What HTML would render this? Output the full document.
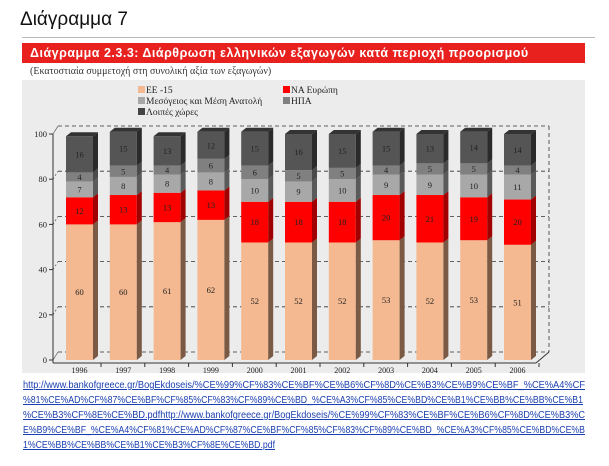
<!DOCTYPE html>
<html><head><meta charset="utf-8"><style>
body{margin:0;width:609px;height:466px;background:#fff;overflow:hidden;font-family:"Liberation Sans",sans-serif;}
.h{position:absolute;left:20px;top:9px;font-size:19px;color:#111;}
.rule{position:absolute;left:22px;top:37px;width:573px;height:1px;background:#bbb;}
.banner{position:absolute;left:22px;top:43px;width:563px;height:20px;background:#e8201e;color:#fff;font-weight:bold;font-size:12.5px;line-height:20px;padding-left:8px;box-sizing:border-box;letter-spacing:0.5px}
.sub{position:absolute;left:30px;top:66px;font-family:"Liberation Serif",serif;font-size:10px;color:#333;}
.panel{position:absolute;left:22px;top:80px;width:563px;height:293px;background:#ececec;}
svg{position:absolute;left:0;top:0}
.lk{font-family:"Liberation Sans",sans-serif;font-size:10px;fill:#1a3fb0;text-decoration:underline;}
</style></head><body>
<div class="h">Διάγραμμα 7</div>
<div class="rule"></div>
<div class="banner">Διάγραμμα 2.3.3: Διάρθρωση ελληνικών εξαγωγών κατά περιοχή προορισμού</div>
<div class="sub">(Εκατοστιαία συμμετοχή στη συνολική αξία των εξαγωγών)</div>
<div class="panel"></div>
<svg id="s" width="609" height="466" font-family="Liberation Serif, serif"></svg>
<svg width="609" height="466">
<text class="lk" x="23" y="388" textLength="562" lengthAdjust="spacingAndGlyphs">http://www.bankofgreece.gr/BogEkdoseis/%CE%99%CF%83%CE%BF%CE%B6%CF%8D%CE%B3%CE%B9%CE%BF_%CE%A4%CF</text>
<text class="lk" x="23" y="403" textLength="560" lengthAdjust="spacingAndGlyphs">%81%CE%AD%CF%87%CE%BF%CF%85%CF%83%CF%89%CE%BD_%CE%A3%CF%85%CE%BD%CE%B1%CE%BB%CE%BB%CE%B1</text>
<text class="lk" x="23" y="418" textLength="562" lengthAdjust="spacingAndGlyphs">%CE%B3%CF%8E%CE%BD.pdfhttp://www.bankofgreece.gr/BogEkdoseis/%CE%99%CF%83%CE%BF%CE%B6%CF%8D%CE%B3%C</text>
<text class="lk" x="23" y="433" textLength="562" lengthAdjust="spacingAndGlyphs">E%B9%CE%BF_%CE%A4%CF%81%CE%AD%CF%87%CE%BF%CF%85%CF%83%CF%89%CE%BD_%CE%A3%CF%85%CE%BD%CE%B</text>
<text class="lk" x="23" y="448" textLength="252" lengthAdjust="spacingAndGlyphs">1%CE%BB%CE%BB%CE%B1%CE%B3%CF%8E%CE%BD.pdf</text>
</svg>
<script>
var s='';
var B=360,U=2.26,X0=53;
var lg=[[138,93,'#f4b990','ΕΕ -15'],[283,93,'#ff0000','ΝΑ Ευρώπη'],[138,104,'#a8a8a8','Μεσόγειος και Μέση Ανατολή'],[283,104,'#808080','ΗΠΑ'],[138,115,'#444','Λοιπές χώρες']];
lg.forEach(function(l){s+='<rect x="'+l[0]+'" y="'+(l[1]-7)+'" width="7" height="7" fill="'+l[2]+'"/><text x="'+(l[0]+8)+'" y="'+l[1]+'" font-size="9.5" fill="#222">'+l[3]+'</text>';});
for(var v=0;v<=100;v+=20){var y=B-v*U-8;s+='<line x1="'+(X0+5)+'" y1="'+y+'" x2="549" y2="'+y+'" stroke="#333" stroke-width="0.8" stroke-dasharray="4,3"/>';
s+='<line x1="'+X0+'" y1="'+(y+8)+'" x2="'+(X0+5)+'" y2="'+y+'" stroke="#555" stroke-width="0.7" stroke-dasharray="'+(v==0||v==100?'none':'2,2')+'"/>';
s+='<line x1="'+(X0-4)+'" y1="'+(y+8)+'" x2="'+X0+'" y2="'+(y+8)+'" stroke="#333"/><text x="'+(X0-6)+'" y="'+(y+11)+'" font-size="8.5" text-anchor="end" fill="#222">'+v+'</text>';}
s+='<line x1="549" y1="'+(B-100*U-8)+'" x2="549" y2="'+(B-8)+'" stroke="#333" stroke-width="0.8" stroke-dasharray="4,3"/>';
s+='<line x1="'+X0+'" y1="'+(B-100*U)+'" x2="'+X0+'" y2="'+(B+3)+'" stroke="#333"/><line x1="'+X0+'" y1="'+(B+3)+'" x2="536" y2="'+(B+3)+'" stroke="#333"/><line x1="536" y1="'+(B+3)+'" x2="549" y2="'+(B-8)+'" stroke="#333"/>';
var yrs=[1996,1997,1998,1999,2000,2001,2002,2003,2004,2005,2006];
var D=[[60,12,7,4,16],[60,13,8,5,15],[61,13,8,4,13],[62,13,8,6,12],[52,18,10,6,15],[52,18,9,5,16],[52,18,10,5,15],[53,20,9,4,15],[52,21,9,5,13],[53,19,10,5,14],[51,20,11,4,14]];
var F=['#f4b990','#ff0000','#a8a8a8','#808080','#555'],S=['#7a5a45','#a00000','#5a5a5a','#4a4a4a','#2a2a2a'];
yrs.forEach(function(yr,i){var x=66+i*43.8,w=27,y=B;
 D[i].forEach(function(v,k){var h=v*U,t=y-h;
  s+='<rect x="'+x+'" y="'+t+'" width="'+w+'" height="'+h+'" fill="'+F[k]+'"/>';
  s+='<polygon points="'+(x+w)+','+y+' '+(x+w+5)+','+(y-4)+' '+(x+w+5)+','+(t-4)+' '+(x+w)+','+t+'" fill="'+S[k]+'"/>';
  s+='<text x="'+(x+w/2)+'" y="'+(t+h/2+3)+'" font-size="8.5" text-anchor="middle" fill="#222">'+v+'</text>';
  y=t;});
 s+='<polygon points="'+x+','+y+' '+(x+5)+','+(y-4)+' '+(x+w+5)+','+(y-4)+' '+(x+w)+','+y+'" fill="#333"/>';
 s+='<line x1="'+(x+w+8)+'" y1="'+(B+3)+'" x2="'+(x+w+8)+'" y2="'+(B+7)+'" stroke="#333"/>';
 s+='<text x="'+(x+w/2)+'" y="'+(B+13)+'" font-size="8" text-anchor="middle" fill="#222">'+yr+'</text>';});
document.getElementById('s').innerHTML=s;
</script>
</body></html>
